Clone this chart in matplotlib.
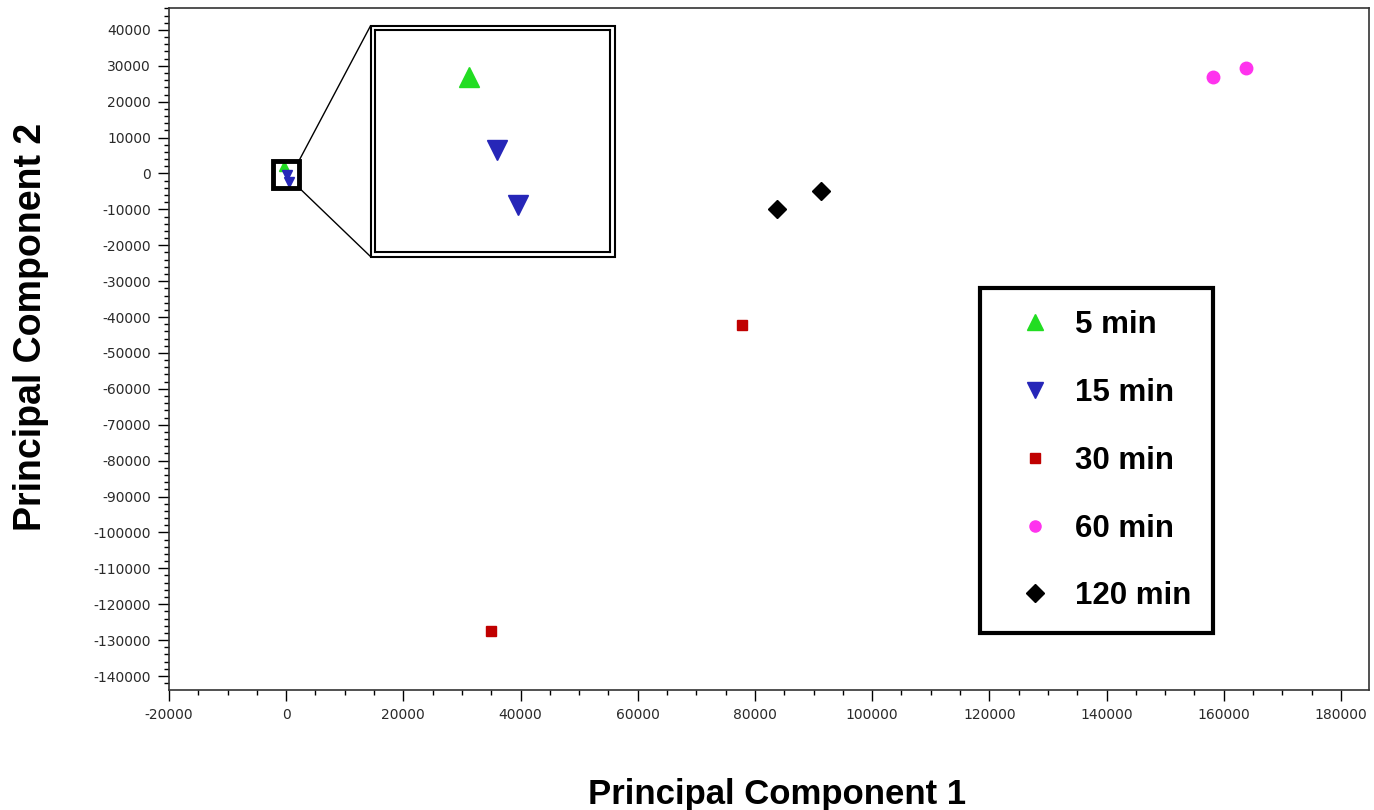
import numpy as np
import matplotlib.pyplot as plt
import matplotlib
from matplotlib.patches import Rectangle, ConnectionPatch
from matplotlib.lines import Line2D
from matplotlib.ticker import MultipleLocator
matplotlib.rcParams['axes.unicode_minus'] = False

# PCA scores
t5_x = [-440]
t5_y = [2000]
t15_x = [90, 480]
t15_y = [-500, -2400]
t30_x = [77800, 35000]
t30_y = [-42300, -127600]
t60_x = [158200, 163800]
t60_y = [27000, 29300]
t120_x = [83800, 91300]
t120_y = [-10000, -5000]

labels = ['5 min', '15 min', '30 min', '60 min', '120 min']
colors = ['#22dd22', '#2626b8', '#c00000', '#ff33ee', 'black']
markers = ['^', 'v', 's', 'o', 'D']

# zoom window around the origin
zoom_x = (-2200, 2200)
zoom_y = (-4000, 3600)

fig = plt.figure(figsize=(13.74, 8.10), dpi=100)
ax = fig.add_axes([169/1374, 120/810, 1200/1374, 682/810])

series = [(t5_x, t5_y), (t15_x, t15_y), (t30_x, t30_y), (t60_x, t60_y), (t120_x, t120_y)]
main_ms = [7, 7, 7.5, 9, 9]
for (xs, ys), lab, c, m, ms in zip(series, labels, colors, markers, main_ms):
    ax.plot(xs, ys, linestyle='none', marker=m, color=c, ms=ms)

ax.set_xlim(-20000, 184800)
ax.set_ylim(-143900, 46100)
ax.xaxis.set_major_locator(MultipleLocator(20000))
ax.xaxis.set_minor_locator(MultipleLocator(5000))
ax.yaxis.set_major_locator(MultipleLocator(10000))
ax.yaxis.set_minor_locator(MultipleLocator(2000))
ax.tick_params(which='major', direction='out', length=8, width=1, labelsize=10, labelcolor='#2a2a2a', pad=5)
ax.tick_params(which='minor', direction='out', length=3.5, width=1)
for s in ax.spines.values():
    s.set_linewidth(1.2)
    s.set_color('#333333')

ax.set_xlabel('Principal Component 1', fontsize=25, fontweight='bold', family='Liberation Sans', labelpad=40)
ax.set_ylabel('Principal Component 2', fontsize=27, fontweight='bold', family='Liberation Sans', labelpad=32)
ax.xaxis.label.set_x(0.507)
ax.yaxis.label.set_y(0.532)

# small box at origin
ax.add_patch(Rectangle((zoom_x[0], zoom_y[0]), zoom_x[1]-zoom_x[0], zoom_y[1]-zoom_y[0],
                       fill=False, edgecolor='black', lw=3.5, zorder=5))

# inset
ins = ax.inset_axes([0.1717, 0.642, 0.196, 0.3255])
for (xs, ys), c, m in zip(series[:2], colors[:2], markers[:2]):
    ins.plot(xs, ys, linestyle='none', marker=m, color=c, ms=14)
ins.set_xlim(*zoom_x)
ins.set_ylim(*zoom_y)
ins.set_xticks([])
ins.set_yticks([])
for s in ins.spines.values():
    s.set_linewidth(1.5)
ins.add_patch(Rectangle((-0.019, -0.02), 1.038, 1.04, transform=ins.transAxes,
                        fill=False, edgecolor='black', lw=1.5, clip_on=False))

for ya, yb in [(zoom_y[1], 1.02), (zoom_y[0], -0.02)]:
    con = ConnectionPatch(xyA=(zoom_x[1], ya), coordsA=ax.transData,
                          xyB=(-0.019, yb), coordsB=ins.transAxes, color='black', lw=1)
    fig.add_artist(con)

leg_ms = [12, 12, 7, 8, 9]
handles = [Line2D([], [], linestyle='none', marker=m, color=c, ms=ms)
           for m, c, ms in zip(markers, colors, leg_ms)]
leg = ax.legend(handles, labels, loc='upper left', bbox_to_anchor=(0.676, 0.589),
                prop={'family': 'Liberation Sans', 'weight': 'bold', 'size': 22.5},
                frameon=True, fancybox=False, edgecolor='black', framealpha=1,
                labelspacing=1.21, handletextpad=0.22, borderpad=0.7, borderaxespad=0,
                handlelength=2.12)
leg.get_frame().set_linewidth(3)

fig.savefig('out.png', dpi=100)
